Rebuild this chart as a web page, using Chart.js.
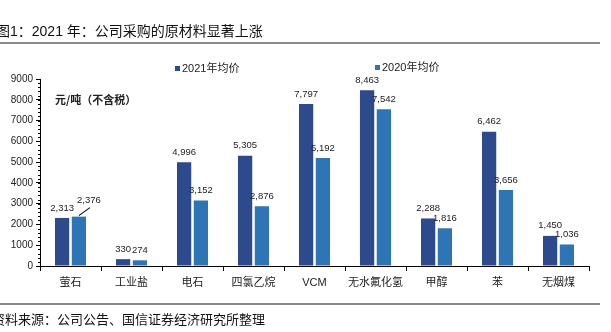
<!DOCTYPE html>
<html>
<head>
<meta charset="utf-8">
<script src="https://cdn.jsdelivr.net/npm/chart.js@4"></script>
<style>
  html, body { margin: 0; padding: 0; background: #fff; }
  canvas { display: block; }
</style>
</head>
<body>
<canvas id="chart" width="611" height="332"></canvas>
<script>
/* Data */
const categories = ['萤石','工业盐','电石','四氯乙烷','VCM','无水氟化氢','甲醇','苯','无烟煤'];
const price2021 = [2313, 330, 4996, 5305, 7797, 8463, 2288, 6462, 1450];
const price2020 = [2376, 274, 3152, 2876, 5192, 7542, 1816, 3656, 1036];
const seriesNames = ['2021年均价', '2020年均价'];
const yTicks = [0,1000,2000,3000,4000,5000,6000,7000,8000,9000];

const COLOR_2021 = '#2c4a8c';
const COLOR_2020 = '#2e75b6';
const FONT = "'Liberation Sans', 'Noto Sans CJK SC', sans-serif";
const CJK = "'Noto Sans CJK SC', sans-serif";

function fmt(v) { return v.toLocaleString('en-US'); }

/* page decorations: title, rules, legend, unit, source */
const framePlugin = {
  id: 'frame',
  afterDraw(chart) {
    const ctx = chart.ctx;
    ctx.save();
    ctx.fillStyle = '#111';
    ctx.textBaseline = 'middle';
    ctx.textAlign = 'left';
    ctx.font = '14px ' + FONT;
    ctx.fillText('图1：2021 年：公司采购的原材料显著上涨', -4, 32);
    ctx.font = '13px ' + FONT;
    ctx.fillText('资料来源：公司公告、国信证券经济研究所整理', -8, 320);

    ctx.strokeStyle = '#666';
    ctx.lineWidth = 1.5;
    ctx.beginPath();
    ctx.moveTo(0, 43); ctx.lineTo(600, 43);
    ctx.moveTo(0, 304); ctx.lineTo(600, 304);
    ctx.stroke();

    // legend
    ctx.font = '11px ' + FONT;
    ctx.fillStyle = COLOR_2021;
    ctx.fillRect(175, 66, 5, 5);
    ctx.fillStyle = '#222';
    ctx.fillText(seriesNames[0], 182, 68.5);
    ctx.fillStyle = COLOR_2020;
    ctx.fillRect(375, 65, 5, 5);
    ctx.fillStyle = '#222';
    ctx.fillText(seriesNames[1], 382, 67.5);

    // unit
    ctx.font = 'bold 11px ' + CJK;
    ctx.fillText('元/吨（不含税）', 55, 100);

    // minor ticks on the y axis
    const y = chart.scales.y;
    const x0 = chart.chartArea.left;
    ctx.strokeStyle = '#000';
    ctx.lineWidth = 1;
    ctx.beginPath();
    for (let v = 0; v <= 9000; v += 200) {
      const py = Math.round(y.getPixelForValue(v)) + 0.5;
      ctx.moveTo(x0 - 2, py); ctx.lineTo(x0, py);
    }
    ctx.stroke();
    ctx.restore();
  }
};

/* value labels above bars */
const labelPlugin = {
  id: 'valueLabels',
  afterDatasetsDraw(chart) {
    const ctx = chart.ctx;
    ctx.save();
    ctx.font = '9.5px ' + FONT;
    ctx.fillStyle = '#222';
    ctx.textAlign = 'center';
    ctx.textBaseline = 'middle';
    chart.data.datasets.forEach((ds, di) => {
      chart.getDatasetMeta(di).data.forEach((bar, i) => {
        let lx = bar.x, ly = bar.y - 10;
        if (di === 1 && i === 0) {
          // label pulled aside with a leader line
          lx = bar.x + 10; ly = bar.y - 16;
          ctx.strokeStyle = '#111';
          ctx.lineWidth = 1.2;
          ctx.beginPath();
          ctx.moveTo(bar.x, bar.y - 1);
          ctx.lineTo(bar.x + 11, bar.y - 9);
          ctx.stroke();
        }
        ctx.fillText(fmt(ds.data[i]), lx, ly);
      });
    });
    ctx.restore();
  }
};

const ctx = document.getElementById('chart').getContext('2d');
new Chart(ctx, {
  type: 'bar',
  data: {
    labels: categories,
    datasets: [
      { label: seriesNames[0], data: price2021, backgroundColor: COLOR_2021, categoryPercentage: 0.55, barPercentage: 0.85 },
      { label: seriesNames[1], data: price2020, backgroundColor: COLOR_2020, categoryPercentage: 0.55, barPercentage: 0.85 }
    ]
  },
  options: {
    responsive: false,
    animation: false,
    layout: { padding: { left: 0, top: 79, right: 22, bottom: 0 } },
    plugins: { legend: { display: false }, tooltip: { enabled: false } },
    scales: {
      x: {
        afterFit(s) { s.height = 66; },
        grid: { drawOnChartArea: false, drawTicks: true, tickLength: 5, color: '#000', offset: true },
        border: { color: '#000', width: 1 },
        ticks: { color: '#222', font: { size: 11, family: FONT }, padding: 5, maxRotation: 0 }
      },
      y: {
        min: 0, max: 9000,
        afterFit(s) { s.width = 40; },
        afterBuildTicks(s) { s.ticks = yTicks.map(v => ({ value: v })); },
        grid: { drawOnChartArea: false, drawTicks: true, tickLength: 4, color: '#000' },
        border: { color: '#000', width: 1 },
        ticks: { color: '#222', font: { size: 10, family: FONT }, padding: 3, callback: v => String(v) }
      }
    }
  },
  plugins: [framePlugin, labelPlugin]
});
</script>
</body>
</html>
